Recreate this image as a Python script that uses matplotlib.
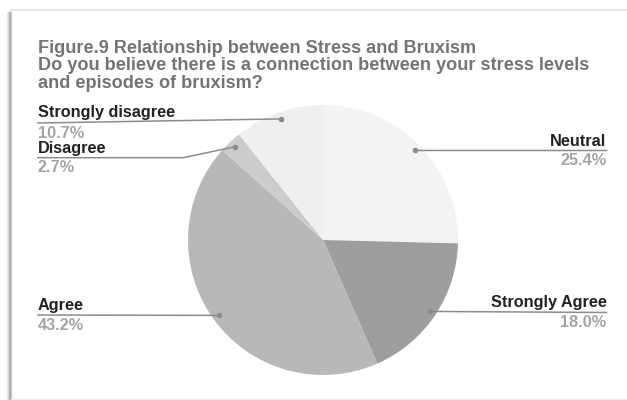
import matplotlib.pyplot as plt
import numpy as np

# survey answers, clockwise from 12 o'clock
labels = ["Neutral", "Strongly Agree", "Agree", "Disagree", "Strongly disagree"]
shares = [25.4, 18.0, 43.2, 2.7, 10.7]
colors = ["#f3f3f3", "#9e9e9e", "#b8b8b8", "#cccccc", "#efefef"]

title_lines = [
    "Figure.9 Relationship between Stress and Bruxism",
    "Do you believe there is a connection between your stress levels",
    "and episodes of bruxism?",
]

W, H = 627, 400


def fx(px):
    return px / W


def fy(py):
    return 1 - py / H


fig = plt.figure(figsize=(W / 100, H / 100), dpi=100)
fig.patch.set_facecolor("white")

# card frame with soft shadow on the left
for i, a in enumerate([0.06, 0.12, 0.20, 0.30, 0.15]):
    fig.add_artist(plt.Line2D([fx(6.5 + i), fx(6.5 + i)], [fy(12), fy(400)],
                              color="black", alpha=a, lw=1))
fig.add_artist(plt.Line2D([fx(11), fx(627)], [fy(9.5), fy(9.5)], color="#e2e2e2", lw=1.2))
fig.add_artist(plt.Line2D([fx(11), fx(627)], [fy(399), fy(399)], color="#ececec", lw=1))

# pie: center (323, 240), radius 135 px
cx, cy, r = 323, 240, 135
ax = fig.add_axes([fx(cx - r), fy(cy + r), 2 * r / W, 2 * r / H])
wedges, _ = ax.pie(shares, colors=colors, startangle=90, counterclock=False,
                   radius=1, wedgeprops=dict(linewidth=0))
ax.set_xlim(-1, 1)
ax.set_ylim(-1, 1)
ax.set_aspect("equal")
ax.axis("off")

# title
for i, line in enumerate(title_lines):
    fig.text(fx(38), fy(52.7 + i * 17.7), line, fontsize=13.05, fontweight="bold",
             color="#747474", family="Liberation Sans", va="baseline")

# label layout: (side, label baseline y px, line y px, knee x px)
layout = {
    "Neutral": ("right", 146, 150.5, None),
    "Strongly Agree": ("right", 307.5, 312.5, None),
    "Agree": ("left", 310, 315, None),
    "Disagree": ("left", 152.7, 157.7, 183),
    "Strongly disagree": ("left", 117.3, 123, None),
}

for w, lab, val in zip(wedges, labels, shares):
    mid = np.deg2rad((w.theta1 + w.theta2) / 2)
    dx, dy = ax.transData.transform((0.95 * np.cos(mid), 0.95 * np.sin(mid)))
    dot = (dx, H - dy)  # pixel coords from top
    side, ty, ly, knee = layout[lab]
    edge = 606.5 if side == "right" else 38
    xs = [dot[0]]
    ys = [dot[1]]
    if knee is not None:
        xs.append(knee)
        ys.append(ly)
    xs.append(edge)
    ys.append(ly)
    fig.add_artist(plt.Line2D([fx(x) for x in xs], [fy(y) for y in ys],
                              color="#8c8c8c", lw=1.1))
    fig.add_artist(plt.Line2D([fx(dot[0])], [fy(dot[1])], marker="o", ms=3,
                              color="#8c8c8c", lw=0))
    ha = "right" if side == "right" else "left"
    fig.text(fx(edge), fy(ty), lab, fontsize=11.7, fontweight="bold",
             color="#222222", family="Liberation Sans", ha=ha, va="baseline")
    fig.text(fx(edge), fy(ly + 14.5), f"{val:.1f}%", fontsize=11.7, fontweight="bold",
             color="#a4a4a4", family="Liberation Sans", ha=ha, va="baseline")

fig.savefig("out.png", dpi=100, facecolor="white")
